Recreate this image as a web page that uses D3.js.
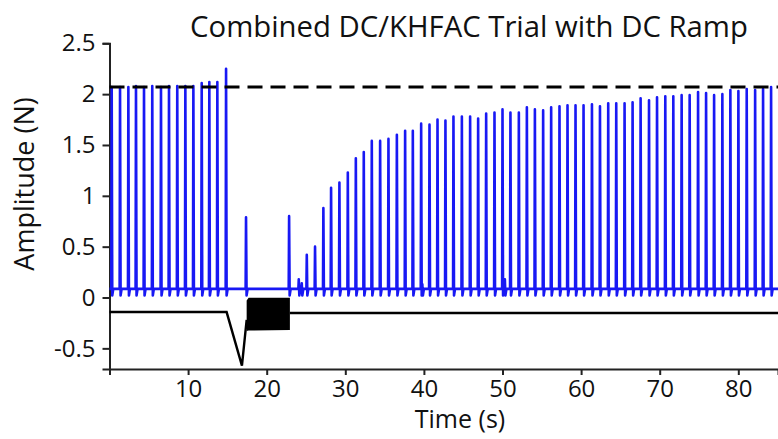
<!DOCTYPE html>
<html>
<head>
<meta charset="utf-8">
<script src="https://cdn.jsdelivr.net/npm/d3@7"></script>
<style>
  html, body { margin: 0; padding: 0; background: #fff; }
  svg { display: block; font-family: "Open Sans", "Noto Sans", sans-serif; }
</style>
</head>
<body>
<svg id="chart" width="778" height="439"></svg>
<script>
// ---- data ----
const titleText = "Combined DC/KHFAC Trial with DC Ramp";
const xLabel = "Time (s)";
const yLabel = "Amplitude (N)";
const xTicks = [10, 20, 30, 40, 50, 60, 70, 80];
const yTicks = [-0.5, 0, 0.5, 1, 1.5, 2, 2.5];
const yTickLabels = ["-0.5", "0", "0.5", "1", "1.5", "2", "2.5"];
const xDomain = [0, 85.05];
const yDomain = [-0.703, 2.5];

// baseline force target (dashed)
const targetLevel = 2.07;

// twitch (blue) peaks: times (s) and amplitudes (N)
const spikeTimes = [
  0.28, 1.34, 2.40, 3.37, 4.39, 5.44, 6.55, 7.57, 8.62, 9.65, 10.67, 11.73, 12.70, 13.72, 14.83,
  17.37, 22.85,
  24.08, 24.46, 25.10, 26.15, 27.21, 28.19, 29.25, 30.32, 31.34, 32.35, 33.37,
  34.43, 35.49, 36.56, 37.61, 38.59, 39.65, 39.80, 40.71, 41.73, 42.74, 43.76, 44.83, 45.88, 46.90,
  47.92, 48.98, 50.00, 50.30, 51.01, 52.08, 53.10, 54.12, 55.17, 56.19, 57.25, 58.27, 59.29,
  60.31, 61.38, 62.40, 63.45, 64.47, 65.53, 66.55, 67.57, 68.64, 69.66, 70.71, 71.73,
  72.79, 73.81, 74.88, 75.90, 76.92, 77.97, 78.99, 80.01, 81.07, 82.14, 83.15, 84.17
];
const spikeAmps = [
  2.07, 2.07, 2.07, 2.08, 2.07, 2.08, 2.07, 2.08, 2.08, 2.08, 2.08, 2.11, 2.12, 2.12, 2.25,
  0.79, 0.80,
  0.18, 0.14, 0.42, 0.50, 0.88, 1.08, 1.13, 1.23, 1.37, 1.43, 1.54,
  1.54, 1.56, 1.60, 1.64, 1.64, 1.71, 0.13, 1.70, 1.75, 1.74, 1.78, 1.78, 1.78, 1.76,
  1.81, 1.82, 1.85, 0.18, 1.82, 1.82, 1.87, 1.85, 1.84, 1.87, 1.88, 1.89, 1.89,
  1.89, 1.90, 1.88, 1.91, 1.91, 1.91, 1.92, 1.96, 1.94, 1.97, 1.98, 1.98,
  1.99, 1.99, 2.02, 2.01, 1.99, 2.00, 2.04, 2.03, 2.05, 2.04, 2.05, 2.07
];
const forceBaseline = 0.085;
const forceUndershoot = 0.02;

// DC waveform (black): pre-block ramp
const dcTimes = [0, 14.9, 16.85, 17.45];
const dcValues = [-0.143, -0.143, -0.67, -0.22];
// KHFAC block envelope
const khfacTimes = [17.45, 17.7, 22.95];
const khfacHigh = [-0.03, -0.003, -0.003];
const khfacLow = [-0.33, -0.325, -0.32];
// DC after block
const postTimes = [22.95, 85.05];
const postValues = [-0.152, -0.152];

// ---- layout ----
const svg = d3.select("#chart");
const x = d3.scaleLinear().domain(xDomain).range([109.5, 778]);
const y = d3.scaleLinear().domain(yDomain).range([369, 43.3]);
const blue = "#1818f4";
const fontTick = 24;

// axes
const xAxis = d3.axisBottom(x).tickValues(xTicks).tickFormat(d => String(d))
  .tickSizeOuter(0).tickSize(6).tickPadding(5);
const yAxis = d3.axisLeft(y).tickValues(yTicks).tickFormat((d, i) => yTickLabels[i])
  .tickSizeOuter(0).tickSize(7).tickPadding(7);

const gx = svg.append("g").attr("transform", `translate(0,${y.range()[0]})`).call(xAxis);
const gy = svg.append("g").attr("transform", `translate(${x.range()[0]},0)`).call(yAxis);
[gx, gy].forEach(g => {
  g.select(".domain").attr("stroke", "#222").attr("stroke-width", 2);
  g.selectAll(".tick line").attr("stroke", "#222").attr("stroke-width", 2);
  g.selectAll(".tick text").attr("fill", "#111").style("font-size", fontTick + "px")
    .style("font-family", "'Open Sans', sans-serif");
});

// blue twitch trace
const tracePts = [[xDomain[0], forceBaseline]];
spikeTimes.forEach((t, i) => {
  const a = spikeAmps[i];
  tracePts.push([t - 0.05, forceBaseline], [t, a], [t + 0.07, forceUndershoot], [t + 0.2, forceBaseline]);
});
tracePts.push([xDomain[1], forceBaseline]);
const line = d3.line().x(d => x(d[0])).y(d => y(d[1]));
svg.append("path").datum(tracePts).attr("d", line)
  .attr("fill", "none").attr("stroke", blue).attr("stroke-width", 2.6)
  .attr("stroke-linejoin", "round");

// black DC waveform
const dcPts = dcTimes.map((t, i) => [t, dcValues[i]]);
svg.append("path").datum(dcPts).attr("d", line)
  .attr("fill", "none").attr("stroke", "#000").attr("stroke-width", 2.4);
const khfacPts = khfacTimes.map((t, i) => ({t, hi: khfacHigh[i], lo: khfacLow[i]}));
svg.append("path").datum(khfacPts)
  .attr("d", d3.area().x(d => x(d.t)).y0(d => y(d.lo)).y1(d => y(d.hi)))
  .attr("fill", "#000");
const postPts = postTimes.map((t, i) => [t, postValues[i]]);
svg.append("path").datum(postPts).attr("d", line)
  .attr("fill", "none").attr("stroke", "#000").attr("stroke-width", 2.4);

// dashed target line
svg.append("line")
  .attr("x1", x(xDomain[0])).attr("x2", x(xDomain[1]))
  .attr("y1", y(targetLevel)).attr("y2", y(targetLevel))
  .attr("stroke", "#000").attr("stroke-width", 3).attr("stroke-dasharray", "15,8");

// title
const title = svg.append("text").attr("x", 469).attr("y", 37)
  .attr("text-anchor", "middle").attr("fill", "#111")
  .style("font-size", "28px").text(titleText);
const tw = title.node().getComputedTextLength();
title.style("font-size", (28 * 558 / tw).toFixed(2) + "px");

// axis labels
svg.append("text").attr("x", 460).attr("y", 428).attr("text-anchor", "middle")
  .attr("fill", "#111").style("font-size", "25px").text(xLabel);
svg.append("text").attr("transform", "translate(34,184) rotate(-90)")
  .attr("text-anchor", "middle").attr("fill", "#111")
  .style("font-size", "27px").text(yLabel);
</script>
</body>
</html>
